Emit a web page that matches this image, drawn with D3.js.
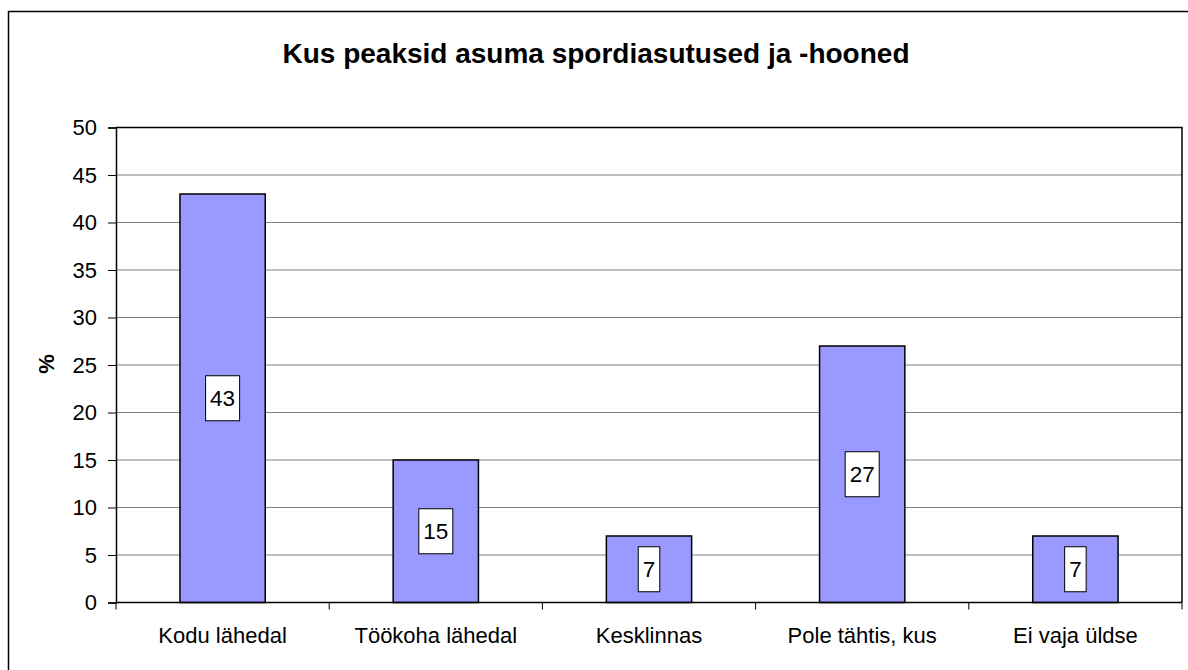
<!DOCTYPE html>
<html>
<head>
<meta charset="utf-8">
<script src="https://cdn.jsdelivr.net/npm/d3@7"></script>
<style>
  body { margin: 0; background: #fff; }
  text { font-family: "Liberation Sans", Arial, sans-serif; }
</style>
</head>
<body>
<div id="chart"></div>
<script>
const categories = ["Kodu lähedal", "Töökoha lähedal", "Kesklinnas", "Pole tähtis, kus", "Ei vaja üldse"];
const values = [43, 15, 7, 27, 7];
const yTicks = [0, 5, 10, 15, 20, 25, 30, 35, 40, 45, 50];
const title = "Kus peaksid asuma spordiasutused ja -hooned";
const yTitle = "%";

const totalWidth = 1188, totalHeight = 670;
const margin = { top: 127.5, right: 6, bottom: 67.5, left: 116 },
  width = totalWidth - margin.left - margin.right,
  height = totalHeight - margin.top - margin.bottom;

const root = d3.select("#chart").append("svg")
  .attr("width", totalWidth)
  .attr("height", totalHeight);

// chart area border (right/bottom run off the picture)
root.append("rect")
  .attr("x", 8.5).attr("y", 11.5)
  .attr("width", totalWidth + 20).attr("height", totalHeight + 20)
  .attr("fill", "#fff").attr("stroke", "#000").attr("stroke-width", 1.5);

root.append("text")
  .attr("x", 596).attr("y", 63)
  .attr("text-anchor", "middle")
  .attr("font-size", 28).attr("font-weight", "bold")
  .text(title);

root.append("text")
  .attr("transform", "translate(54,364) rotate(-90)")
  .attr("text-anchor", "middle")
  .attr("font-size", 22).attr("font-weight", "bold")
  .text(yTitle);

const svg = root.append("g")
  .attr("transform", "translate(" + margin.left + "," + margin.top + ")");

const x = d3.scaleBand().domain(categories).range([0, width]).paddingInner(0.6).paddingOuter(0.3);
const xCat = d3.scaleBand().domain(categories).range([0, width]);
const y = d3.scaleLinear().domain([0, 50]).range([height, 0]);

// gridlines
svg.append("g").selectAll("line")
  .data(yTicks.filter(d => d > 0 && d < 50))
  .join("line")
  .attr("x1", 0).attr("x2", width)
  .attr("y1", d => y(d)).attr("y2", d => y(d))
  .attr("stroke", "#808080").attr("stroke-width", 1);

// plot frame top/right
svg.append("path")
  .attr("d", `M0,0H${width}V${height}`)
  .attr("fill", "none").attr("stroke", "#000").attr("stroke-width", 1.5);

// bars
svg.append("g").selectAll("rect")
  .data(values)
  .join("rect")
  .attr("x", (d, i) => x(categories[i]))
  .attr("width", x.bandwidth())
  .attr("y", d => y(d))
  .attr("height", d => height - y(d))
  .attr("fill", "#9999FF")
  .attr("stroke", "#000").attr("stroke-width", 1.5);

// y axis
const yAxis = svg.append("g")
  .call(d3.axisLeft(y).tickValues(yTicks).tickSize(8).tickPadding(11));
yAxis.selectAll("text").attr("font-size", 22).attr("fill", "#000").style("font-family", "Liberation Sans, Arial, sans-serif");
yAxis.select(".domain").attr("stroke", "#000").attr("stroke-width", 1.5);

// x axis with category separators
const xAxis = svg.append("g").attr("transform", `translate(0,${height})`);
xAxis.append("line").attr("x1", 0).attr("x2", width).attr("stroke", "#000").attr("stroke-width", 1.5);
xAxis.selectAll("line.sep")
  .data(categories.map((c, i) => i).concat([categories.length]))
  .join("line").attr("class", "sep")
  .attr("x1", i => i * xCat.step()).attr("x2", i => i * xCat.step())
  .attr("y1", 0).attr("y2", 7)
  .attr("stroke", "#000").attr("stroke-width", 1);
xAxis.selectAll("text")
  .data(categories)
  .join("text")
  .attr("x", d => xCat(d) + xCat.bandwidth() / 2)
  .attr("y", 40)
  .attr("text-anchor", "middle")
  .attr("font-size", 22)
  .text(d => d);

// data labels
const labels = svg.append("g").selectAll("g")
  .data(values)
  .join("g")
  .attr("transform", (d, i) => `translate(${x(categories[i]) + x.bandwidth() / 2},${(y(d) + height) / 2})`);
labels.append("text")
  .attr("text-anchor", "middle")
  .attr("dy", "0.36em")
  .attr("font-size", 22.5)
  .text(d => d);
labels.each(function () {
  const g = d3.select(this);
  const bb = g.select("text").node().getBBox();
  g.insert("rect", "text")
    .attr("x", bb.x - 4.5).attr("width", bb.width + 9)
    .attr("y", -22.5).attr("height", 45)
    .attr("fill", "#fff").attr("stroke", "#000").attr("stroke-width", 1);
});
</script>
</body>
</html>
